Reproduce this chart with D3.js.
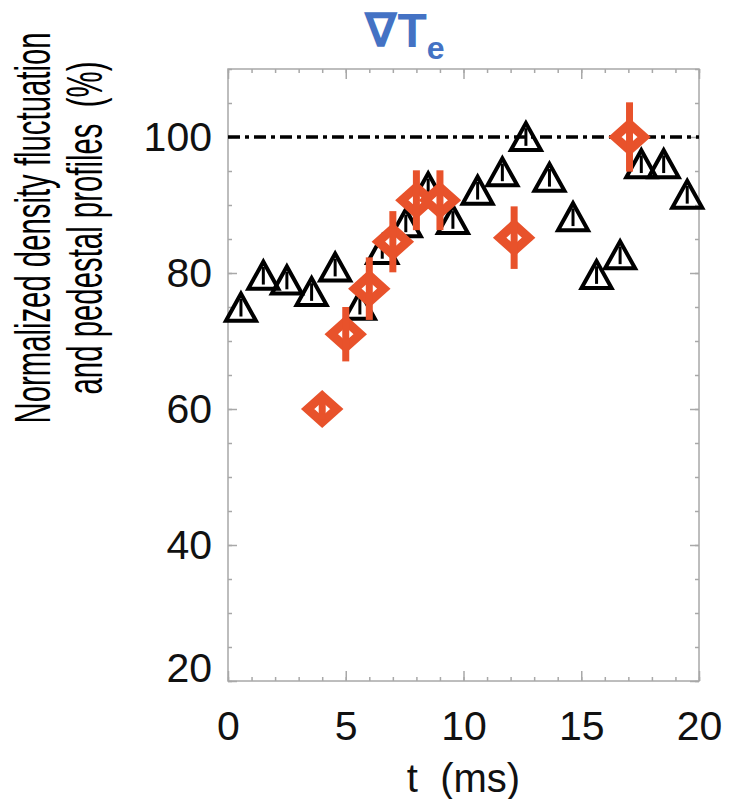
<!DOCTYPE html>
<html>
<head>
<meta charset="utf-8">
<script src="https://cdn.jsdelivr.net/npm/d3@7"></script>
<style>
  body { margin: 0; background: #fff; }
  svg { display: block; }
</style>
</head>
<body>
<div id="chart"></div>
<script>
// density fluctuation (black triangles)
var triT = [0.55, 1.5, 2.5, 3.55, 4.55, 5.6, 6.55, 7.55, 8.5, 9.55, 10.6, 11.65, 12.65, 13.65, 14.65, 15.65, 16.65, 17.55, 18.5, 19.5];
var triV = [74.9, 79.6, 78.9, 77.2, 80.8, 75.2, 83.4, 87.3, 92.6, 87.8, 92.1, 94.8, 100, 94.0, 88.2, 79.7, 82.6, 96.0, 96.0, 91.5];
var triErr = [1.3, 1.3, 1.3, 1.3, 1.3, 1.3, 1.3, 1.3, 1.3, 1.3, 1.3, 1.3, 1.3, 1.3, 1.3, 1.3, 1.3, 1.3, 1.3, 1.3];

// pedestal grad Te (red diamonds)
var diaT = [4.0, 5.0, 6.0, 7.0, 8.0, 9.0, 12.15, 17.05];
var diaV = [60, 71, 77.7, 84.6, 90.7, 90.7, 85.2, 100];
var diaErr = [1.5, 4, 4.6, 4.5, 4.4, 4.4, 4.6, 5.1];

// ticks
var xTicks = [0, 5, 10, 15, 20];
var xMinor = [0, 1, 2, 3, 4, 5, 6, 7, 8, 9, 10, 11, 12, 13, 14, 15, 16, 17, 18, 19, 20];
var yTicks = [20, 40, 60, 80, 100];
var yMinor = [20, 25, 30, 35, 40, 45, 50, 55, 60, 65, 70, 75, 80, 85, 90, 95, 100, 105, 110];
var refLevel = 100;

var width = 730, height = 799;
var margin = {top: 69, right: 31, bottom: 118, left: 228};

var red = "#e8522b";
var blue = "#4472c4";
var frameGray = "#a8a8a8";

var svg = d3.select('#chart').append('svg')
  .attr('width', width)
  .attr('height', height);

var x = d3.scaleLinear().domain([0, 20]).range([margin.left, width - margin.right]);
var y = d3.scaleLinear().domain([20, 110]).range([height - margin.bottom, margin.top]);

var labelFont = "'Liberation Sans', Arial, Helvetica, sans-serif";

// frame
svg.append('rect')
  .attr('x', x(0)).attr('y', y(110))
  .attr('width', x(20) - x(0)).attr('height', y(20) - y(110))
  .attr('fill', 'none').attr('stroke', frameGray).attr('stroke-width', 1.5);

function styleAxis(g) {
  g.select('.domain').remove();
  g.selectAll('.tick line').attr('stroke', frameGray).attr('stroke-width', 1.5);
}

// minor ticks, all four sides
svg.append('g').attr('transform', 'translate(0,' + y(20) + ')')
  .call(d3.axisBottom(x).tickValues(xMinor).tickSize(-4).tickFormat(''))
  .call(styleAxis);
svg.append('g').attr('transform', 'translate(0,' + y(110) + ')')
  .call(d3.axisTop(x).tickValues(xMinor).tickSize(-4).tickFormat(''))
  .call(styleAxis);
svg.append('g').attr('transform', 'translate(' + x(0) + ',0)')
  .call(d3.axisLeft(y).tickValues(yMinor).tickSize(-4).tickFormat(''))
  .call(styleAxis);
svg.append('g').attr('transform', 'translate(' + x(20) + ',0)')
  .call(d3.axisRight(y).tickValues(yMinor).tickSize(-4).tickFormat(''))
  .call(styleAxis);

// major ticks with labels
var xAxis = svg.append('g').attr('transform', 'translate(0,' + y(20) + ')')
  .call(d3.axisBottom(x).tickValues(xTicks).tickSize(-10).tickPadding(30))
  .call(styleAxis);
svg.append('g').attr('transform', 'translate(0,' + y(110) + ')')
  .call(d3.axisTop(x).tickValues(xTicks).tickSize(-10).tickFormat(''))
  .call(styleAxis);
var yAxis = svg.append('g').attr('transform', 'translate(' + x(0) + ',0)')
  .call(d3.axisLeft(y).tickValues(yTicks).tickSize(-9).tickPadding(16))
  .call(styleAxis);
svg.append('g').attr('transform', 'translate(' + x(20) + ',0)')
  .call(d3.axisRight(y).tickValues(yTicks).tickSize(-9).tickFormat(''))
  .call(styleAxis);

[xAxis, yAxis].forEach(function(a) {
  a.selectAll('text')
    .attr('fill', '#111')
    .style('font-family', labelFont)
    .style('font-size', '41px');
});
// bottom label sits above the corner
yAxis.selectAll('.tick text').filter(function(d) { return d === 20; }).attr('dy', '0.0em');

// dash-dot reference line
svg.append('line')
  .attr('x1', x(0)).attr('x2', x(20))
  .attr('y1', y(refLevel)).attr('y2', y(refLevel))
  .attr('stroke', '#000').attr('stroke-width', 3.5)
  .attr('stroke-dasharray', '12,5,4,5');

// triangles
var triData = triT.map(function(t, i) { return {t: t, v: triV[i], e: triErr[i]}; });
var tri = svg.append('g').selectAll('g').data(triData).enter().append('g');
tri.append('path')
  .attr('d', function(d) {
    var cx = x(d.t), cy = y(d.v);
    return 'M' + (cx - 15) + ',' + (cy + 13) + 'L' + cx + ',' + (cy - 14) + 'L' + (cx + 15) + ',' + (cy + 13) + 'Z';
  })
  .attr('fill', 'none').attr('stroke', '#000').attr('stroke-width', 4)
  .attr('stroke-linejoin', 'miter');
tri.append('line')
  .attr('x1', function(d) { return x(d.t); }).attr('x2', function(d) { return x(d.t); })
  .attr('y1', function(d) { return y(d.v + d.e); }).attr('y2', function(d) { return y(d.v - d.e); })
  .attr('stroke', '#000').attr('stroke-width', 3);

// diamonds with error bars
var diaData = diaT.map(function(t, i) { return {t: t, v: diaV[i], e: diaErr[i]}; });
var dia = svg.append('g').selectAll('g').data(diaData).enter().append('g');
dia.append('path')
  .attr('d', function(d) {
    var cx = x(d.t), cy = y(d.v), rx = 14.5, ry = 13;
    return 'M' + cx + ',' + (cy - ry) + 'L' + (cx + rx) + ',' + cy + 'L' + cx + ',' + (cy + ry) + 'L' + (cx - rx) + ',' + cy + 'Z';
  })
  .attr('fill', '#fff').attr('stroke', red).attr('stroke-width', 9);
dia.append('line')
  .attr('x1', function(d) { return x(d.t); }).attr('x2', function(d) { return x(d.t); })
  .attr('y1', function(d) { return y(d.v + d.e); }).attr('y2', function(d) { return y(d.v - d.e); })
  .attr('stroke', red).attr('stroke-width', 7);

// x axis title
svg.append('text')
  .attr('x', x(10)).attr('y', 792)
  .attr('text-anchor', 'middle')
  .style('font-family', labelFont).style('font-size', '40px')
  .attr('fill', '#111')
  .attr('xml:space', 'preserve')
  .text('t  (ms)');

// y axis title, two lines
var narrow = "'Liberation Sans Narrow', 'Arial Narrow', 'Liberation Sans', sans-serif";
var yTitle = [
  {text: 'Normalized density fluctuation', x: 50, len: 391},
  {text: 'and pedestal profiles  (%)', x: 102, len: 333}
];
svg.selectAll('.ytitle').data(yTitle).enter().append('text')
  .attr('class', 'ytitle')
  .attr('transform', function(d) { return 'translate(' + d.x + ',228) rotate(-90)'; })
  .attr('text-anchor', 'middle')
  .attr('xml:space', 'preserve')
  .attr('textLength', function(d) { return d.len; })
  .attr('lengthAdjust', 'spacingAndGlyphs')
  .style('font-family', narrow).style('font-size', '50px')
  .attr('fill', '#000')
  .text(function(d) { return d.text; });

// title
var title = svg.append('text')
  .attr('x', 364).attr('y', 47)
  .attr('fill', blue)
  .style('font-family', "'Liberation Sans', 'DejaVu Sans', sans-serif")
  .style('font-weight', 'bold')
  .style('font-size', '48px');
title.append('tspan').text('∇T');
title.append('tspan').attr('dy', 12).style('font-size', '32px').text('e');
</script>
</body>
</html>
